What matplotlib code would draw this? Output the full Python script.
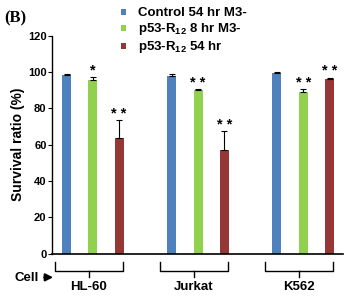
import matplotlib
matplotlib.use("Agg")
import matplotlib.pyplot as plt
import numpy as np

plt.rcParams['font.family'] = ['Liberation Sans', 'DejaVu Sans']
plt.rcParams['mathtext.fontset'] = 'custom'
plt.rcParams['mathtext.rm'] = 'Liberation Sans:bold'
plt.rcParams['mathtext.bf'] = 'Liberation Sans:bold'
plt.rcParams['mathtext.default'] = 'rm'

cells = ["HL-60", "Jurkat", "K562"]
series = ["Control 54 hr M3-", "p53-R$_{12}$ 8 hr M3-", "p53-R$_{12}$ 54 hr"]
values = [[98.3, 97.8, 99.5],
          [95.5, 90.3, 88.8],
          [63.5, 56.9, 96.0]]
errors = [[0.5, 1.0, 0.5],
          [2.0, 0.5, 2.0],
          [10.0, 10.5, 1.0]]
stars = [["", "", ""],
         ["*", "**", "**"],
         ["**", "**", "**"]]
colors = ["#4F81BD", "#92D050", "#953735"]
yticks = [0, 20, 40, 60, 80, 100, 120]

fig = plt.figure(figsize=(3.45, 2.96), dpi=100)
ax = fig.add_axes([0.151, 0.143, 0.843, 0.736])

bw = 0.34
for s in range(3):
    xs = [g * 4 + s for g in range(3)]
    ax.bar(xs, values[s], width=bw, color=colors[s], zorder=2,
           label=series[s])
    ax.errorbar(xs, values[s], yerr=[[0] * 3, errors[s]], fmt='none',
                ecolor='black', elinewidth=0.8, capsize=2.5, capthick=0.8,
                zorder=3)
    for x, v, e, st in zip(xs, values[s], errors[s], stars[s]):
        if st:
            ax.text(x, v + e - 0.5, " ".join(st), ha='center', va='bottom',
                    fontsize=10.5, fontweight='bold')

ax.set_xlim(-0.55, 10.51)
ax.set_ylim(0, 120)
ax.set_yticks(yticks)
ax.set_yticklabels([str(t) for t in yticks], fontsize=8, fontweight='bold')
ax.set_xticks([])
ax.tick_params(axis='y', length=3, width=0.8, pad=1)
for sp in ['top', 'right']:
    ax.spines[sp].set_visible(False)
ax.spines['left'].set_linewidth(1.0)
ax.spines['bottom'].set_linewidth(1.2)
ax.set_ylabel("Survival ratio (%)", fontsize=10, fontweight='bold', labelpad=2)

# brackets
trans = ax.get_xaxis_transform()
for g, name in enumerate(cells):
    x0 = g * 4 - 0.45
    x1 = g * 4 + 2.15
    xc = (x0 + x1) / 2
    ytop = -0.04
    ybot = -0.08
    ax.plot([x0, x0, x1, x1], [ytop, ybot, ybot, ytop], color='black',
            lw=1.0, transform=trans, clip_on=False)
    ax.plot([xc, xc], [ybot, -0.105], color='black', lw=1.0,
            transform=trans, clip_on=False)
    ax.text(xc, -0.125, name, ha='center', va='top', fontsize=9.5,
            fontweight='bold', transform=trans)

fig.text(0.043, 0.061, "Cell", ha='left', va='center', fontsize=9.5,
         fontweight='bold')
ax.annotate("", xy=(0.162, 0.063), xytext=(0.12, 0.063),
            xycoords='figure fraction', textcoords='figure fraction',
            annotation_clip=False,
            arrowprops=dict(arrowstyle='-|>', color='black', lw=1.5,
                            mutation_scale=11))

fig.text(0.012, 0.965, "(B)", ha='left', va='top', fontsize=12,
         fontweight='bold', family='Liberation Serif')

leg = fig.legend(loc='upper left', bbox_to_anchor=(0.315, 1.015),
                 frameon=False, handlelength=0.4,
                 handleheight=0.3, handletextpad=0.9, labelspacing=0.15,
                 prop={'weight': 'bold', 'size': 9.5})

fig.savefig("out.png", dpi=100)
